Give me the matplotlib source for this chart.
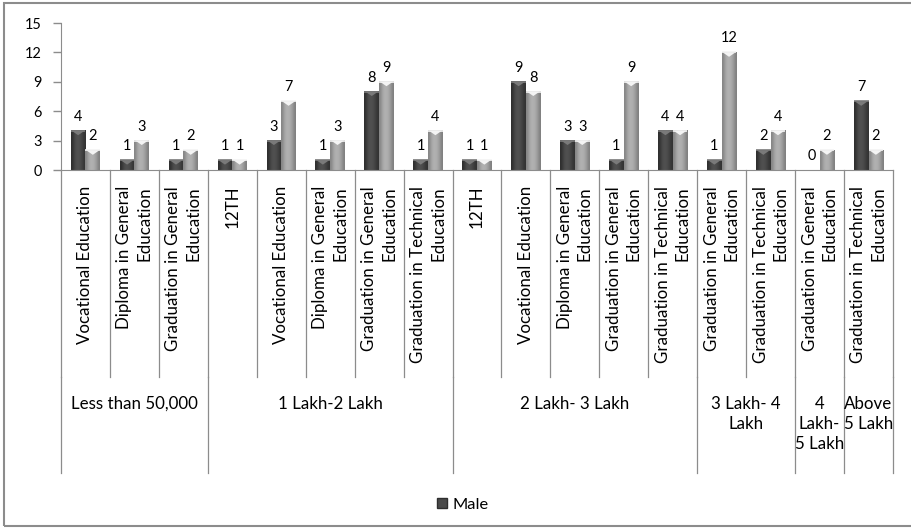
import numpy as np
import matplotlib
matplotlib.use("Agg")
import matplotlib.pyplot as plt
from matplotlib.patches import Polygon, Patch, Rectangle
from matplotlib.transforms import blended_transform_factory

plt.rcParams['font.family'] = ['Lato', 'DejaVu Sans']

# ---- data ----
groups = ["Less than 50,000", "1 Lakh-2 Lakh", "2 Lakh- 3 Lakh",
          "3 Lakh- 4\nLakh", "4\nLakh-\n5 Lakh", "Above\n5 Lakh"]
group_sizes = [3, 5, 5, 2, 1, 1]
categories = [
    "Vocational Education", "Diploma in General\nEducation", "Graduation in General\nEducation",
    "12TH", "Vocational Education", "Diploma in General\nEducation",
    "Graduation in General\nEducation", "Graduation in Technical\nEducation",
    "12TH", "Vocational Education", "Diploma in General\nEducation",
    "Graduation in General\nEducation", "Graduation in Technical\nEducation",
    "Graduation in General\nEducation", "Graduation in Technical\nEducation",
    "Graduation in General\nEducation",
    "Graduation in Technical\nEducation",
]
male = [4, 1, 1, 1, 3, 1, 8, 1, 1, 9, 3, 1, 4, 1, 2, 0, 7]
other = [2, 3, 2, 1, 7, 3, 9, 4, 1, 8, 3, 9, 4, 12, 4, 2, 2]
yticks = [0, 3, 6, 9, 12, 15]

W, H = 911, 528
fig = plt.figure(figsize=(W / 100, H / 100), dpi=100)
renderer = fig.canvas.get_renderer()


def fit_size(sample, target_px, base=10.0):
    """Font size at which `sample` is `target_px` pixels wide."""
    t = fig.text(0, 0, sample, fontsize=base)
    w = t.get_window_extent(renderer).width
    t.remove()
    return base * target_px / w


fs_cat = fit_size("Vocational Education", 158)
fs_grp = fit_size("Less than 50,000", 126)
fs_num = fit_size("15", 17)
fs_leg = fit_size("Male", 36)

ax = fig.add_axes([61 / W, 1 - 170 / H, (893 - 61) / W, (170 - 23) / H])

n = len(categories)
x = np.arange(n)
bw = 0.30
grid_c = "#8c8c8c"


def fy(py):
    return 1 - py / H


def shaded_bar(xc, h, shades, bevel_col):
    rect = Rectangle((xc - bw / 2, 0), bw, h, facecolor="none", edgecolor="none")
    ax.add_patch(rect)
    if h <= 0:
        return
    grad = np.array([shades])
    ax.imshow(grad, cmap="gray", vmin=0, vmax=1, extent=[xc - bw / 2, xc + bw / 2, 0, h],
              aspect="auto", interpolation="bicubic", clip_path=rect, zorder=2)
    d = min(0.45, h)
    tri = Polygon([[xc - bw / 2 + 0.02, h], [xc + bw / 2 - 0.02, h], [xc, h - d]],
                  closed=True, facecolor=bevel_col, edgecolor="none", zorder=3)
    ax.add_patch(tri)
    ax.plot([xc - bw / 2, xc + bw / 2], [h, h], color=bevel_col, lw=1.2, zorder=3,
            solid_capstyle="butt")


dark_shades = [0.18, 0.28, 0.32, 0.31, 0.26, 0.20]
light_shades = [0.52, 0.66, 0.70, 0.68, 0.62, 0.50]

for i in range(n):
    shaded_bar(x[i] - bw / 2, male[i], dark_shades, "#7a7a7a")
    shaded_bar(x[i] + bw / 2, other[i], light_shades, "#f4f4f4")
    ax.annotate(str(male[i]), (x[i] - bw / 2, male[i]), xytext=(0, 5),
                textcoords="offset points", ha="center", va="bottom", fontsize=fs_num)
    ax.annotate(str(other[i]), (x[i] + bw / 2, other[i]), xytext=(0, 5),
                textcoords="offset points", ha="center", va="bottom", fontsize=fs_num)

ax.set_xlim(-0.5, n - 0.5)
ax.set_ylim(0, 15)
ax.set_yticks(yticks)
ax.set_xticks([])
ax.tick_params(axis="y", length=6, width=1, color=grid_c, pad=8, labelsize=fs_num)
for s in ["top", "right"]:
    ax.spines[s].set_visible(False)
ax.spines["left"].set_color(grid_c)
ax.spines["bottom"].set_color(grid_c)
ax.patch.set_alpha(0)

# multi-level category axis
tr = blended_transform_factory(ax.transData, fig.transFigure)
y_axis, y_inner, y_outer = fy(170), fy(377), fy(473)
for b in range(n + 1):
    ax.plot([b - 0.5, b - 0.5], [y_axis, y_inner], color=grid_c, lw=0.9,
            transform=tr, clip_on=False)
for i, lab in enumerate(categories):
    ax.text(x[i], fy(186), lab, rotation=90, ha="center", va="top",
            multialignment="right", fontsize=fs_cat, transform=tr,
            linespacing=1.32)

start = 0
bounds = [0]
for gname, gs in zip(groups, group_sizes):
    mid = start + (gs - 1) / 2
    ax.text(mid, fy(396), gname, ha="center", va="top", fontsize=fs_grp,
            transform=tr, linespacing=1.32)
    start += gs
    bounds.append(start)
for b in bounds:
    ax.plot([b - 0.5, b - 0.5], [y_inner, y_outer], color=grid_c, lw=0.9,
            transform=tr, clip_on=False)

# legend
handle = Patch(facecolor="#4a4a4a", edgecolor="#2e2e2e", label="Male")
fig.legend(handles=[handle], loc="center", bbox_to_anchor=(463 / W, fy(505)),
           frameon=False, fontsize=fs_leg, handlelength=0.6, handleheight=0.6,
           handletextpad=0.35)

# chart border
fig.patches.append(Rectangle((4 / W, 2 / H), 1.2, 1 - 5 / H, transform=fig.transFigure,
                             facecolor="none", edgecolor="#8c8c8c", lw=1.5))

fig.savefig("out.png", dpi=100)
